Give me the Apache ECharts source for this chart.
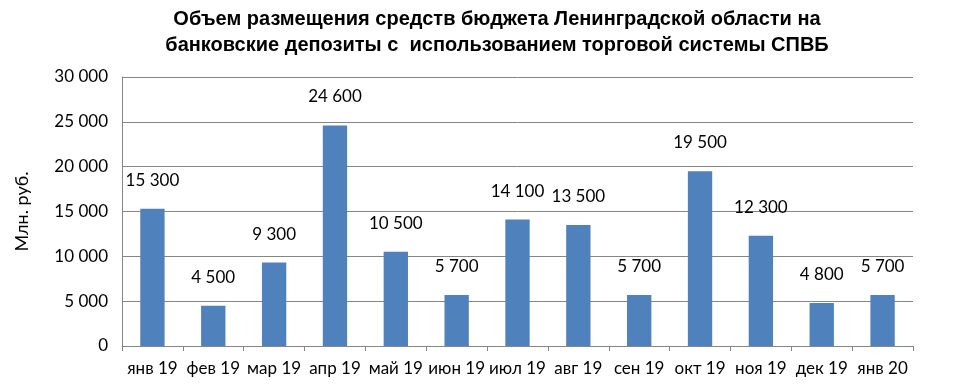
<!DOCTYPE html>
<html><head><meta charset="utf-8">
<script src="https://cdn.jsdelivr.net/npm/echarts@6/dist/echarts.min.js"></script>
<style>html,body{margin:0;padding:0;background:#fff}#c{width:973px;height:391px}</style>
</head><body><div id="c"></div>
<script>
const categories = ['янв 19','фев 19','мар 19','апр 19','май 19','июн 19','июл 19','авг 19','сен 19','окт 19','ноя 19','дек 19','янв 20'];
const values = [15300, 4500, 9300, 24600, 10500, 5700, 14100, 13500, 5700, 19500, 12300, 4800, 5700];
const titleText = 'Объем размещения средств бюджета Ленинградской области на\nбанковские депозиты с  использованием торговой системы СПВБ';
const yName = 'Млн. руб.';

function fmt(v){ return String(v).replace(/\B(?=(\d{3})+(?!\d))/g, ' '); }

const chart = echarts.init(document.getElementById('c'), null, {renderer:'canvas'});
chart.setOption({
  animation:false,
  title:{text:titleText, left:492, textAlign:'center', top:1,
    textStyle:{fontFamily:'Liberation Sans', fontWeight:'bold', fontSize:20, lineHeight:26, color:'#000'}},
  grid:{left:122, right:60, top:77, bottom:45, containLabel:false},
  xAxis:{type:'category', data:categories,
    axisLine:{lineStyle:{color:'#868686'}},
    axisTick:{show:true, length:5, lineStyle:{color:'#868686'}},
    axisLabel:{interval:0, color:'#000', fontFamily:'Lato', fontSize:17, margin:14}},
  yAxis:{type:'value', min:0, max:30000, interval:5000,
    name:yName, nameLocation:'middle', nameGap:91, nameRotate:90,
    nameTextStyle:{color:'#000', fontFamily:'Lato', fontSize:18},
    axisLine:{show:true, lineStyle:{color:'#868686'}},
    axisTick:{show:false},
    splitLine:{lineStyle:{color:'#868686', width:1}},
    axisLabel:{color:'#000', fontFamily:'Lato', fontSize:17, margin:14, formatter:fmt}},
  series:[{type:'bar', data:values, barWidth:'40%',
    itemStyle:{color:'#4F81BD'},
    label:{show:true, position:'top', distance:20, color:'#000', fontFamily:'Lato', fontSize:17, formatter:p=>fmt(p.value)}}]
});
</script></body></html>
